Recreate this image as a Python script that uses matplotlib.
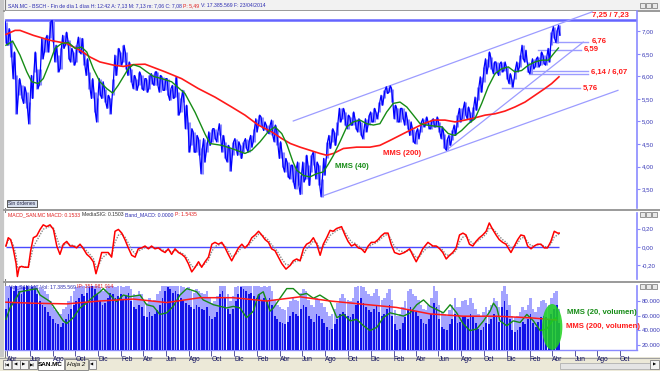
import matplotlib
matplotlib.use('Agg')
import matplotlib.pyplot as plt
import numpy as np
import pandas as pd
from matplotlib.patches import Ellipse, Rectangle

plt.rcParams['font.family'] = ['Liberation Sans', 'DejaVu Sans']

# week 0 = monday 2010-03-29, one value pair per week (weekly high / low of SAN.MC)
start = pd.Timestamp('2010-03-29')

price_hi = [7.21, 7.06, 6.80, 6.54, 6.02, 5.95, 5.80, 5.77, 5.65, 5.43,
            6.02, 6.54, 6.17, 6.17, 6.84, 6.84, 6.91, 7.22, 7.24, 6.69,
            6.47, 6.62, 6.91, 6.98, 6.80, 6.62, 6.54, 6.69, 6.87, 6.84,
            6.54, 6.39, 6.10, 5.95, 5.65, 5.51, 5.95, 5.88, 5.73, 5.58,
            5.51, 5.95, 6.47, 6.62, 6.54, 6.69, 6.54, 6.32, 6.17, 6.02,
            5.95, 6.10, 6.02, 5.95, 5.95, 6.02, 6.06, 6.10, 6.10, 6.02,
            5.99, 5.95, 5.95, 5.73, 5.80, 5.99, 5.65, 5.51, 5.69, 5.36,
            4.99, 4.84, 4.77, 4.69, 4.62, 4.40, 4.62, 4.55, 4.77, 4.84,
            4.84, 4.77, 4.95, 4.69, 4.55, 4.47, 4.40, 4.55, 4.62, 4.55,
            4.47, 4.55, 4.62, 4.58, 4.69, 4.84, 5.06, 5.14, 5.10, 4.99,
            4.92, 4.92, 5.03, 4.92, 4.80, 4.55, 4.32, 4.18, 4.10, 4.03,
            4.03, 3.95, 4.10, 3.81, 4.10, 4.25, 4.03, 4.25, 4.32, 4.10,
            4.03, 3.73, 4.18, 4.55, 4.69, 4.84, 4.77, 4.99, 5.29, 5.29,
            5.21, 5.14, 5.10, 5.21, 5.06, 5.06, 4.99, 4.84, 5.06, 5.14,
            5.21, 5.29, 5.21, 5.43, 5.58, 5.69, 5.77, 5.79, 5.73, 5.36,
            5.29, 5.29, 5.29, 5.21, 5.06, 4.99, 4.84, 4.77, 4.84, 4.99,
            5.06, 5.10, 4.99, 5.03, 5.06, 5.10, 4.99, 4.88, 4.73, 4.62,
            4.69, 4.80, 4.92, 5.14, 5.29, 5.29, 5.43, 5.32, 5.21, 5.32,
            5.54, 5.77, 5.99, 6.21, 6.39, 6.54, 6.43, 6.32, 6.32, 6.28,
            6.32, 6.32, 6.21, 6.06, 5.95, 6.17, 6.32, 6.47, 6.69, 6.58,
            6.32, 6.25, 6.39, 6.39, 6.43, 6.54, 6.47, 6.43, 6.62, 6.98,
            7.10, 7.02, 7.13]
price_lo = [6.73, 6.69, 6.43, 5.95, 5.17, 5.58, 5.51, 5.40, 5.29, 4.95,
            5.51, 6.10, 5.73, 5.80, 6.39, 6.54, 6.54, 6.84, 6.76, 6.32,
            6.10, 6.17, 6.62, 6.69, 6.39, 6.32, 6.25, 6.32, 6.54, 6.50,
            6.25, 6.02, 5.73, 5.51, 5.21, 4.99, 5.58, 5.51, 5.43, 5.29,
            5.17, 5.58, 6.02, 6.25, 6.25, 6.32, 6.17, 6.02, 5.88, 5.73,
            5.69, 5.80, 5.73, 5.69, 5.65, 5.73, 5.84, 5.80, 5.80, 5.65,
            5.69, 5.69, 5.58, 5.47, 5.51, 5.54, 5.14, 5.21, 5.43, 4.84,
            4.32, 4.47, 4.32, 4.32, 4.25, 3.84, 4.10, 4.32, 4.47, 4.55,
            4.62, 4.55, 4.69, 4.32, 4.18, 4.10, 3.90, 4.25, 4.40, 4.25,
            4.18, 4.32, 4.40, 4.32, 4.43, 4.55, 4.77, 4.92, 4.88, 4.80,
            4.77, 4.73, 4.69, 4.55, 4.47, 4.18, 3.99, 3.88, 3.77, 3.73,
            3.66, 3.51, 3.58, 3.38, 3.66, 3.73, 3.58, 3.88, 4.03, 3.73,
            3.58, 3.33, 3.81, 4.18, 4.40, 4.55, 4.47, 4.69, 4.99, 5.06,
            4.92, 4.84, 4.92, 4.92, 4.84, 4.77, 4.69, 4.62, 4.77, 4.92,
            4.99, 4.99, 5.06, 5.21, 5.36, 5.51, 5.62, 5.65, 5.43, 5.06,
            4.99, 4.99, 5.06, 4.92, 4.84, 4.69, 4.55, 4.51, 4.62, 4.77,
            4.88, 4.92, 4.84, 4.84, 4.88, 4.88, 4.77, 4.62, 4.40, 4.36,
            4.47, 4.58, 4.69, 4.88, 4.99, 5.06, 5.14, 5.06, 4.99, 5.06,
            5.25, 5.47, 5.65, 5.88, 6.06, 6.21, 6.17, 6.06, 6.10, 6.02,
            6.10, 6.13, 5.95, 5.84, 5.76, 5.95, 6.10, 6.21, 6.39, 6.32,
            6.10, 6.06, 6.17, 6.21, 6.21, 6.25, 6.28, 6.25, 6.32, 6.69,
            6.84, 6.75, 6.91]

# moving averages (week position, value)
mms40_wk = [0, 2.6, 5.4, 8, 9.9, 12.4, 14.3, 16.9, 18.8, 21.4, 24, 26.5, 29, 31,
            33.5, 36, 38.6, 40.9, 43, 45, 46.9, 48.8, 51.4, 54, 56.5, 59.7, 63.5,
            68.6, 72.5, 76.3, 78.2, 82.7, 86.5, 91.6, 94.2, 97.4, 100.6, 103.1,
            105.7, 107.6, 110, 111.4, 114, 116.5, 119, 121.6, 123.5, 125.5, 128,
            130.6, 133.1, 135.7, 138.2, 140.8, 143.3, 145.9, 148.4, 151, 153.6,
            156.1, 158.7, 161.2, 163.8, 167, 169.5, 172, 174.6, 177.2, 179.7,
            182.3, 184.8, 187.4, 190, 192.5, 195, 197.6, 200.2, 202.7, 205.3,
            207.9, 209.8, 211.7]
mms40 = [6.69, 6.78, 6.47, 6.10, 5.88, 5.84, 5.95, 6.32, 6.62, 6.73, 6.75, 6.62,
         6.65, 6.54, 6.17, 5.88, 5.73, 5.63, 5.80, 5.99, 6.17, 6.26, 6.21, 6.10,
         6.00, 5.95, 5.88, 5.62, 5.20, 4.72, 4.51, 4.47, 4.40, 4.29, 4.36, 4.55,
         4.78, 4.88, 4.73, 4.50, 4.10, 3.92, 3.80, 3.77, 3.84, 3.88, 4.05, 4.25,
         4.55, 4.88, 4.99, 5.03, 4.95, 4.92, 4.95, 5.21, 5.40, 5.43, 5.32, 5.14,
         4.95, 4.92, 4.90, 4.88, 4.73, 4.69, 4.80, 4.95, 5.06, 5.40, 5.77, 6.06,
         6.17, 6.21, 6.10, 6.13, 6.25, 6.32, 6.36, 6.36, 6.50, 6.63]
mms200_wk = [0, 3.5, 5.4, 10.5, 16.9, 23.3, 28.4, 32.2, 36, 41.2, 45, 48.8, 53.3,
             61, 67.3, 73.7, 80.1, 86.5, 91.6, 96.7, 101.8, 105.7, 109, 112.7,
             116.5, 120.3, 122.9, 125.5, 129.3, 134.4, 139.5, 143.3, 147.2, 152.3,
             156.1, 160, 163.8, 168.2, 172.1, 175.9, 179.7, 183.6, 187.4, 191.2,
             195, 198.9, 202.7, 206.5, 209.1, 211.9]
mms200 = [6.93, 7.02, 7.02, 6.91, 6.80, 6.73, 6.58, 6.43, 6.32, 6.25, 6.22, 6.26,
          6.27, 6.10, 5.95, 5.73, 5.54, 5.32, 5.14, 4.92, 4.77, 4.62, 4.51, 4.43,
          4.36, 4.29, 4.25, 4.29, 4.40, 4.43, 4.43, 4.47, 4.58, 4.73, 4.84, 4.95,
          5.03, 5.03, 4.99, 5.03, 5.08, 5.14, 5.17, 5.23, 5.32, 5.43, 5.58, 5.73,
          5.84, 5.99]

# MACD line (week position, value)
macd_wk = [0.0, 0.9, 1.8, 2.8, 3.9, 4.4, 5.1, 6.0, 7.3, 8.6,
           9.5, 10.5, 11.8, 13.1, 14.3, 15.6, 16.9, 18.2, 19.5, 20.7,
           22.0, 23.3, 24.6, 25.8, 27.1, 28.4, 29.7, 31.0, 32.2, 33.5,
           34.5, 35.4, 36.7, 38.0, 39.2, 40.5, 41.8, 43.1, 44.4, 45.6,
           46.9, 48.2, 49.5, 50.7, 52.0, 53.3, 54.6, 55.8, 57.1, 58.4,
           59.7, 61.0, 62.2, 63.5, 64.8, 66.1, 67.4, 68.6, 69.9, 71.2,
           72.5, 73.8, 75.0, 76.3, 77.6, 78.9, 80.1, 81.4, 82.7, 84.0,
           85.2, 86.5, 87.8, 89.1, 90.4, 91.6, 92.9, 94.2, 95.5, 96.8,
           98.0, 99.3, 100.6, 101.8, 103.1, 104.4, 105.7, 107.3, 108.9, 110.1,
           111.4, 112.7, 114.0, 115.2, 116.5, 117.8, 119.1, 120.4, 121.6, 122.9,
           124.2, 125.4, 126.7, 128.6, 129.9, 131.1, 132.4, 133.7, 135.0, 136.2,
           137.5, 138.8, 140.0, 141.3, 142.6, 143.8, 145.1, 146.4, 147.6, 148.9,
           150.8, 152.7, 154.7, 155.9, 157.2, 158.5, 159.7, 161.7, 163.6, 164.9,
           166.2, 167.4, 168.7, 170.0, 171.2, 172.5, 173.8, 175.1, 176.3, 177.6,
           178.9, 180.1, 181.4, 182.7, 184.0, 185.2, 186.5, 187.8, 189.0, 190.3,
           191.6, 193.5, 194.8, 196.1, 197.3, 198.6, 199.9, 201.2, 202.4, 203.7,
           205.0, 206.3, 207.5, 208.8, 210.1, 211.4, 212.0]
macd = [0.01, 0.10, 0.08, -0.02, -0.18, -0.32, -0.22, -0.21, -0.22, -0.22,
        -0.04, 0.10, 0.12, 0.19, 0.24, 0.22, 0.24, 0.19, 0.01, -0.08,
        0.03, 0.06, 0.01, 0.01, -0.01, 0.03, -0.02, -0.08, -0.11, -0.16,
        -0.29, -0.20, -0.06, -0.06, -0.06, -0.11, 0.17, 0.19, 0.15, 0.08,
        -0.01, -0.09, -0.11, -0.02, -0.01, 0.01, -0.02, 0.01, -0.02, -0.01,
        -0.04, -0.06, -0.02, -0.08, -0.02, -0.06, -0.08, -0.11, -0.18, -0.27,
        -0.22, -0.16, -0.22, -0.16, -0.11, 0.03, 0.05, 0.03, 0.05, -0.01,
        -0.08, -0.15, -0.08, -0.01, 0.03, -0.01, 0.03, 0.10, 0.13, 0.17,
        0.13, 0.08, 0.05, -0.02, -0.04, -0.11, -0.18, -0.24, -0.20, -0.15,
        -0.13, -0.15, -0.02, 0.03, 0.05, 0.10, 0.03, -0.09, 0.03, 0.10,
        0.18, 0.17, 0.20, 0.22, 0.13, 0.06, 0.01, 0.03, -0.01, -0.02,
        -0.06, 0.01, 0.05, 0.05, 0.08, 0.12, 0.15, 0.15, 0.03, -0.06,
        -0.08, -0.06, -0.02, -0.09, -0.16, -0.09, -0.02, 0.05, 0.01, 0.01,
        -0.02, -0.06, -0.13, -0.09, -0.06, -0.01, 0.13, 0.15, 0.13, 0.03,
        0.01, 0.06, 0.10, 0.13, 0.17, 0.26, 0.19, 0.13, 0.08, 0.05,
        0.03, -0.06, 0.01, 0.08, 0.13, 0.12, 0.01, -0.02, 0.01, 0.03,
        0.03, -0.01, -0.01, 0.06, 0.17, 0.15, 0.15]

# weekly volume in millions of shares: typical day and busiest day
volume = [70, 85, 100, 95, 105, 95, 90, 100, 105, 95,
          100, 98, 90, 80, 75, 72, 65, 60, 55, 50,
          48, 45, 50, 55, 62, 70, 75, 80, 85, 90,
          88, 92, 100, 105, 98, 90, 80, 75, 78, 85,
          92, 90, 85, 88, 90, 82, 88, 92, 80, 72,
          70, 75, 72, 60, 58, 65, 60, 62, 68, 75,
          85, 95, 100, 98, 92, 95, 90, 85, 80, 78,
          75, 72, 70, 75, 72, 70, 68, 72, 60, 55,
          58, 65, 90, 95, 85, 70, 62, 70, 80, 90,
          100, 98, 95, 90, 92, 88, 85, 90, 82, 85,
          80, 85, 75, 60, 55, 52, 50, 48, 52, 60,
          65, 62, 60, 70, 75, 72, 60, 55, 52, 62,
          60, 55, 50, 45, 40, 42, 48, 55, 62, 66,
          62, 60, 58, 62, 75, 80, 85, 78, 72, 68,
          65, 70, 75, 65, 60, 62, 70, 75, 60, 48,
          40, 42, 50, 58, 70, 72, 68, 65, 60, 55,
          50, 48, 55, 62, 78, 72, 55, 45, 42, 40,
          48, 55, 62, 50, 52, 58, 60, 55, 62, 58,
          50, 42, 40, 45, 50, 48, 55, 62, 58, 52,
          72, 80, 68, 55, 40, 38, 40, 45, 52, 48,
          55, 62, 50, 45, 52, 58, 60, 58, 55, 62,
          70, 75, 50]
volume_peak = [110, 115, 120, 110, 125, 115, 110, 120, 125, 115,
               120, 115, 110, 100, 98, 95, 90, 80, 72, 68,
               65, 62, 70, 72, 80, 88, 95, 100, 105, 110,
               108, 112, 120, 125, 118, 110, 100, 95, 98, 105,
               110, 108, 100, 105, 110, 100, 105, 110, 98, 90,
               88, 95, 90, 80, 78, 85, 80, 82, 90, 95,
               105, 115, 120, 118, 110, 115, 110, 105, 100, 98,
               100, 95, 92, 98, 95, 92, 90, 95, 85, 78,
               80, 88, 110, 115, 105, 90, 80, 88, 100, 110,
               120, 118, 115, 110, 112, 108, 105, 110, 100, 105,
               100, 105, 95, 82, 75, 72, 70, 68, 72, 80,
               85, 82, 80, 92, 98, 95, 82, 75, 72, 85,
               82, 78, 72, 65, 60, 62, 70, 78, 85, 90,
               85, 82, 80, 85, 100, 105, 110, 100, 95, 90,
               88, 92, 98, 88, 82, 85, 92, 98, 82, 68,
               60, 62, 72, 80, 95, 98, 90, 88, 82, 75,
               70, 68, 75, 85, 102, 95, 75, 65, 62, 60,
               68, 75, 85, 72, 72, 80, 82, 75, 85, 78,
               70, 62, 60, 65, 72, 68, 75, 85, 80, 72,
               95, 102, 90, 75, 60, 58, 60, 65, 72, 68,
               75, 85, 70, 65, 72, 80, 82, 78, 75, 85,
               92, 95, 70]

vmms20_wk = [0, 1.6, 5.4, 11.8, 13.1, 16.9, 19.5, 22, 23.3, 25.8, 28.4, 30.9, 33.5,
             36.1, 37.3, 39.9, 42.4, 45, 47.5, 51.4, 53.9, 56.5, 59, 61.6, 64.1,
             66.7, 69.3, 73.1, 75.6, 79.5, 84.6, 87.1, 89.7, 92.2, 94.8, 96.7,
             98.6, 99.9, 101.2, 102.5, 105, 107.6, 110.1, 112.7, 115.2, 117.8,
             120.3, 124.2, 126.8, 129.3, 131.9, 134.4, 137, 139.5, 142.1, 144.6,
             147.2, 149.7, 152.3, 154.9, 157.4, 160, 162.5, 165.1, 167.6, 170.2,
             172.7, 175.3, 177.8, 180.4, 183, 185.5, 186.8, 188.1, 189.3, 191.9,
             194.4, 197, 199.6, 202.1, 204.7, 207.2, 209.8, 211]
vmms20 = [55.2, 71, 93.5, 98, 89, 80, 66.5, 53, 49.4, 57.5, 71, 77.7, 86.7,
          93.5, 98, 89, 80, 89, 86.7, 89, 75.5, 73.2, 62, 64.2, 73.2,
          89, 98, 93.5, 82.2, 75.5, 71, 73.2, 71, 57.5, 66.5, 89,
          93.5, 80, 66.5, 71, 84.5, 98, 98, 89, 91.2, 84.5,
          89, 80, 57.5, 62, 53, 55.2, 46.2, 39.4, 44, 57.5,
          64.2, 62, 59.7, 64.2, 75.5, 82.2, 73.2, 68.7, 64.2, 75.5,
          64.2, 48.4, 39.4, 41.7, 53, 66.5, 77.7, 71, 53, 46.2,
          53, 50.7, 62, 53, 39.4, 41.7, 55.2, 57.5]
vmms200_wk = [0, 10.4, 23.3, 36, 48.8, 61.6, 74.4, 87.1, 99.9, 112.7, 124.2,
              136.8, 149.7, 162.5, 175.2, 188, 200.8, 211]
vmms200 = [79, 77.6, 76.7, 80.7, 83.4, 78.5, 85.3, 85.3, 80.7, 86.5, 80.7,
           76.2, 71.7, 62.7, 59.5, 59.5, 57.3, 54.2]

# drawn support / resistance levels: price, first week, last week
level_price = [6.76, 6.59, 6.12, 6.06, 5.74]
level_from = [208.5, 204.0, 199.5, 200.5, 190.0]
level_to = [223.0, 220.5, 223.0, 223.0, 220.0]
# trend lines (week0, price0, week1, price1)
trend_w0 = [110.1, 121.0, 168.9]
trend_p0 = [5.01, 3.34, 4.37]
trend_w1 = [224.6, 234.5, 221.2]
trend_p1 = [7.43, 5.69, 6.76]

months_es = ['Ene', 'Feb', 'Mar', 'Abr', 'May', 'Jun', 'Jul', 'Ago', 'Sep', 'Oct', 'Nov', 'Dic']

W, H = 660, 371
fig = plt.figure(figsize=(W / 100, H / 100), dpi=100)
fig.patch.set_facecolor('white')

# window chrome under the panels, in pixel coordinates
chrome = fig.add_axes([0, 0, 1, 1], zorder=-5)
chrome.set_xlim(0, W)
chrome.set_ylim(H, 0)
chrome.axis('off')
chrome.add_patch(Rectangle((0, 0), 4, H, color='#c8c8c8', lw=0))
chrome.plot([4.5, 4.5], [0, 357], color='#808080', lw=0.8)
chrome.add_patch(Rectangle((4, 0), W, 10.5, color='#f2f2f2', lw=0))
for yy in (10.5, 209.5, 281.5):
    chrome.plot([4, W], [yy, yy], color='#9a9a9a', lw=1.4)
chrome.add_patch(Rectangle((0, 357), W, 14, color='#ece9d8', lw=0))
chrome.plot([0, W], [357.5, 357.5], color='#a0a0a0', lw=0.8)
for i, s in enumerate(['|◀', '◀', '▶', '▶|']):
    chrome.add_patch(Rectangle((3 + i * 8.5, 360), 8, 9, facecolor='#f4f4f4', edgecolor='#808080', lw=0.6))
    chrome.text(7 + i * 8.5, 364.8, s, fontsize=3.2, ha='center', va='center', color='black',
                family=['DejaVu Sans'])
chrome.add_patch(Rectangle((37.5, 358), 26, 12, facecolor='white', edgecolor='#808080', lw=0.6))
chrome.text(50.5, 364.5, 'SAN.MC', fontsize=4.6, ha='center', va='center', weight='bold')
chrome.add_patch(Rectangle((64.5, 359), 23, 11, facecolor='#ece9d8', edgecolor='#808080', lw=0.6))
chrome.text(76, 364.5, 'Hoja 2', fontsize=4.6, ha='center', va='center', style='italic')
chrome.add_patch(Rectangle((88.5, 360), 7, 9, facecolor='#f4f4f4', edgecolor='#808080', lw=0.6))
chrome.text(92, 364.8, '◀', fontsize=3.0, ha='center', va='center', family=['DejaVu Sans'])
chrome.add_patch(Rectangle((560, 362.5), 90, 6, facecolor='#e4e4e4', edgecolor='#b0b0b0', lw=0.6))
chrome.add_patch(Rectangle((650, 360), 9, 9, facecolor='#f4f4f4', edgecolor='#808080', lw=0.6))
chrome.text(654.5, 364.8, '▶', fontsize=3.0, ha='center', va='center', family=['DejaVu Sans'])
for yy in (3, 212, 284):
    for k in range(3):
        chrome.add_patch(Rectangle((640 + k * 6, yy), 5, 5, facecolor='#e8e8e8', edgecolor='#707070', lw=0.5))

# panels
left, width = 5 / W, 632 / W
ax_p = fig.add_axes([left, 1 - 208 / H, width, 197 / H])
ax_m = fig.add_axes([left, 1 - 279 / H, width, 66 / H])
ax_v = fig.add_axes([left, 1 - 350 / H, width, 64 / H])
xlim = (-0.35, 241.8)
axis_blue = '#8a8aff'
for ax in (ax_p, ax_m, ax_v):
    ax.set_xlim(*xlim)
    ax.set_facecolor('white')
    for sp in ('top', 'left', 'bottom'):
        ax.spines[sp].set_visible(False)
    ax.spines['right'].set_color(axis_blue)
    ax.spines['right'].set_linewidth(1.2)
    ax.yaxis.tick_right()
    ax.tick_params(axis='y', colors=axis_blue, labelcolor='#3a3ab8', labelsize=4.4,
                   length=2.5, width=0.8, pad=1)
    ax.set_xticks([])

# overlay for header texts and the button, above the panels
over = fig.add_axes([0, 0, 1, 1], zorder=10)
over.set_xlim(0, W)
over.set_ylim(H, 0)
over.axis('off')
over.patch.set_alpha(0)
over.add_patch(Rectangle((7, 199.5), 30, 7.5, facecolor='#d8e0ee', edgecolor='#404040', lw=0.6))
over.text(22, 203.4, 'Sin órdenes', fontsize=3.6, ha='center', va='center', color='#202040')

renderer = fig.canvas.get_renderer()


def header(x0, y0, parts):
    # write coloured pieces one after the other on a single line
    x = x0
    for s, c in parts:
        t = over.text(x, y0, s, fontsize=3.7, color=c, va='center')
        bb = t.get_window_extent(renderer)
        x += bb.width * W / fig.bbox.width + 1.5


header(8, 5.6, [('SAN.MC - BSCH - Fin de día 1 días H: 12:42 A: 7,13 M: 7,13 m: 7,06 C: 7,08', '#2b2bb0'),
                ('P: 5,49', '#e02020'), ('V: 17.385.569 F: 23/04/2014', '#2b2bb0')])
header(8, 214.5, [('MACD_SAN.MC MACD: 0.1533', '#e02020'), ('MediaSIG: 0.1503', '#303030'),
                  ('Band_MACD: 0.0000', '#2b2bb0'), ('P: 1.5435', '#e02020')])
header(9, 286.5, [('Vol_SAN.MC Vol: 17.385.569', '#2b2bb0'), ('IP: 351.981.014', '#e02020')])

weeks = np.arange(len(price_hi))

# price panel
ax_p.set_ylim(3.08, 7.45)
ax_p.set_yticks(np.arange(3.5, 7.01, 0.5))
ax_p.set_yticklabels([f'{v:.2f}'.replace('.', ',') for v in np.arange(3.5, 7.01, 0.5)])
ax_p.axhline(7.25, color='#6464ff', lw=1.8, zorder=2)
for lp, lf, lt in zip(level_price, level_from, level_to):
    ax_p.plot([lf, lt], [lp, lp], color='#9c9cff', lw=1.0, zorder=2)
for w0, p0, w1, p1 in zip(trend_w0, trend_p0, trend_w1, trend_p1):
    ax_p.plot([w0, w1], [p0, p1], color='#9c9cff', lw=0.9, zorder=2)
zx, zy = [], []
for w, hi, lo in zip(weeks, price_hi, price_lo):
    a, b = (hi, lo) if w % 2 == 0 else (lo, hi)
    zx += [w - 0.25, w + 0.25]
    zy += [a, b]
ax_p.vlines(weeks, price_lo, price_hi, color='#8c8cff', lw=2.2, zorder=3)
ax_p.plot(zx, zy, color='#0000ff', lw=0.9, zorder=4)
ax_p.plot(mms200_wk, mms200, color='#ff1a1a', lw=1.2, zorder=5)
ax_p.plot(mms40_wk, mms40, color='#168c16', lw=1.0, zorder=5)
lbl = dict(fontsize=5.6, weight='bold', va='center')
ax_p.text(126.1, 3.99, 'MMS (40)', color='#168c16', **lbl)
ax_p.text(144.5, 4.28, 'MMS (200)', color='#ff1a1a', **lbl)
ax_p.text(224.6, 7.36, '7,25 / 7,23', color='#ff1a1a', **lbl)
ax_p.text(224.6, 6.78, '6,76', color='#ff1a1a', **lbl)
ax_p.text(221.5, 6.60, '6,59', color='#ff1a1a', **lbl)
ax_p.text(224.3, 6.09, '6,14 / 6,07', color='#ff1a1a', **lbl)
ax_p.text(221.1, 5.74, '5,76', color='#ff1a1a', **lbl)

# MACD panel, signal = short exponential average of the MACD line
sig = pd.Series(macd).ewm(alpha=0.55).mean()
ax_m.set_ylim(-0.347, 0.368)
ax_m.set_yticks([-0.2, 0, 0.2])
ax_m.set_yticklabels(['-0,20', '0,00', '0,20'])
ax_m.hlines(0, 0, 212, color='#4a4aff', lw=1.0, zorder=2)
ax_m.plot(macd_wk, sig, color='#888888', lw=1.0, ls=(0, (1, 1)), zorder=3)
ax_m.plot(macd_wk, macd, color='#ff0000', lw=1.1, zorder=4)

# volume panel
ax_v.set_ylim(12.4, 101.6)
ax_v.set_yticks([20, 40, 60, 80])
ax_v.set_yticklabels(['20.000', '40.000', '60.000', '80.000'])
ax_v.bar(weeks, volume_peak, width=0.95, color='#a4a4ff', lw=0, zorder=2)
ax_v.bar(weeks, volume, width=0.7, color='#1212e8', lw=0, zorder=3)
ax_v.plot(vmms20_wk, vmms20, color='#168c16', lw=1.0, zorder=4)
ax_v.plot(vmms200_wk, vmms200, color='#ff1a1a', lw=1.1, zorder=4)
ax_v.add_patch(Ellipse((209.3, 44.5), 7.8, 64, facecolor='#1ed21e', edgecolor='none', alpha=0.85, zorder=5))
ax_v.text(215.0, 64.0, 'MMS (20, volumen)', color='#168c16', **lbl)
ax_v.text(214.7, 44.9, 'MMS (200, volumen)', color='#ff1a1a', **lbl)
ax_v.spines['bottom'].set_visible(True)
ax_v.spines['bottom'].set_color(axis_blue)
ax_v.spines['bottom'].set_linewidth(1.0)

ticks = pd.date_range('2010-04-01', '2014-10-01', freq='2MS')
tick_w = [(d - start).days / 7 for d in ticks]
ax_v.set_xticks(tick_w)
ax_v.set_xticklabels([months_es[d.month - 1] for d in ticks])
ax_v.tick_params(axis='x', colors='#3a3a90', labelcolor='#101060', labelsize=4.8,
                 length=4, width=0.6, pad=0.2, direction='out')
for t in ax_v.get_xticklabels():
    t.set_horizontalalignment('left')

fig.savefig('out.png', dpi=100)
